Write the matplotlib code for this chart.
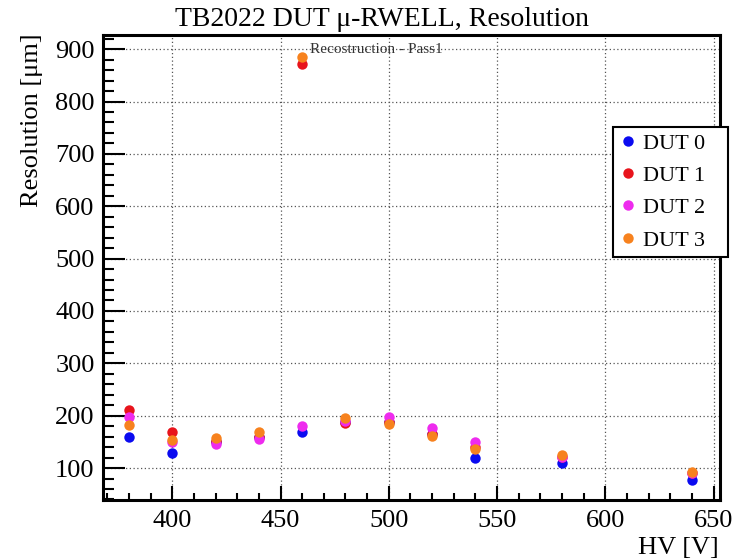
import matplotlib
matplotlib.use("Agg")
import matplotlib.pyplot as plt
from matplotlib.ticker import MultipleLocator

plt.rcParams['font.family'] = ['Liberation Serif', 'DejaVu Serif']

# HV values [V]
hv = [380, 400, 420, 440, 460, 480, 500, 520, 540, 580, 640]
# Resolution [um] per DUT
dut0 = [160, 129, 150, 160, 168, 188, 188, 165, 119, 109, 77]
dut1 = [211, 168, 152, 160, 872, 186, 188, 165, 140, 122, 90]
dut2 = [198, 150, 145, 155, 180, 190, 198, 176, 150, 122, 90]
dut3 = [182, 153, 157, 169, 885, 195, 185, 161, 136, 125, 93]
series = [dut0, dut1, dut2, dut3]
labels = ["DUT 0", "DUT 1", "DUT 2", "DUT 3"]
colors = ["#0b0bf0", "#e8141c", "#ee2bee", "#f7821e"]

W, H = 742, 560
fig = plt.figure(figsize=(W / 100, H / 100), dpi=100)
ax = fig.add_axes([103 / W, 1 - 500 / H, (720 - 103) / W, (500 - 35) / H])

for vals, lab, col in zip(series, labels, colors):
    ax.plot(hv, vals, linestyle='none', marker='o', markersize=7.5,
            color=col, markeredgewidth=0, label=lab, zorder=3)

ax.set_xlim(368, 653)
ax.set_ylim(39, 927)
ax.xaxis.set_major_locator(MultipleLocator(50))
ax.xaxis.set_minor_locator(MultipleLocator(10))
ax.yaxis.set_major_locator(MultipleLocator(100))
ax.yaxis.set_minor_locator(MultipleLocator(20))
ax.tick_params(axis='both', which='both', direction='in', labelsize=19,
               width=1.5, color='black')
ax.tick_params(axis='y', which='major', length=16, pad=6)
ax.tick_params(axis='y', which='minor', length=8)
ax.tick_params(axis='x', which='major', length=10, pad=7)
ax.tick_params(axis='x', which='minor', length=5)
for sp in ax.spines.values():
    sp.set_linewidth(2.2)
ax.grid(True, which='major', linestyle=(0, (1, 2)), color='#555555', linewidth=0.9)
ax.set_axisbelow(True)

ax.text(463.5, 900, "Recostruction - Pass1", fontsize=11, color='#333333',
        ha='left', va='center', zorder=4)

fig.text(0.515, 1 - 20 / H, "TB2022 DUT μ-RWELL, Resolution", fontsize=20,
         ha='center', va='center')
fig.text(32 / W, 1 - 33 / H, "Resolution [μm]", fontsize=19, rotation=90,
         ha='center', va='top')
fig.text(719 / W, 1 - 548 / H, "HV [V]", fontsize=19, ha='right', va='center')

leg = ax.legend(loc='upper left',
                bbox_to_anchor=(613 / W, 1 - 263 / H, 115 / W, 136 / H),
                bbox_transform=fig.transFigure, mode='expand', borderaxespad=0,
                fancybox=False, edgecolor='black', framealpha=1, fontsize=16,
                handlelength=0.8, handletextpad=0.3, labelspacing=0.53,
                borderpad=0.27, markerscale=1.0)
leg.get_frame().set_linewidth(1.5)
leg.set_zorder(5)

fig.savefig("out.png", dpi=100)
